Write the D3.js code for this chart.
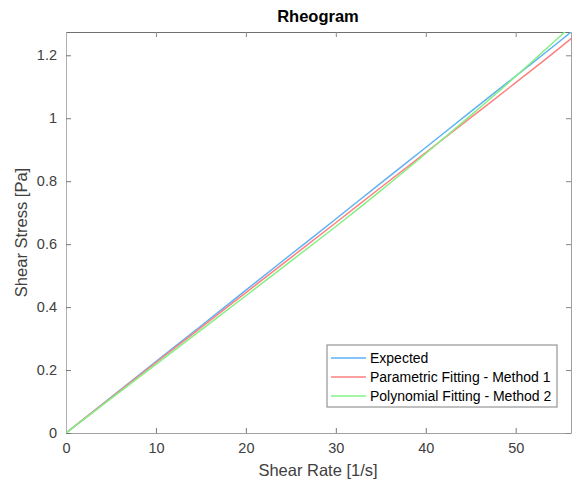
<!DOCTYPE html>
<html>
<head>
<meta charset="utf-8">
<title>Rheogram</title>
<script src="https://d3js.org/d3.v7.min.js"></script>
<style>
  body { margin: 0; background: #fff; font-family: "Liberation Sans", Arial, sans-serif; }
  .tick text { font-size: 14.5px; fill: #404040; }
</style>
</head>
<body>
<script>
// shear rate samples [1/s]
var shearRate = [0, 5, 10, 15, 20, 25, 30, 35, 40, 45, 50, 55, 56.2];
// shear stress [Pa]
var expected   = [0, 0.113, 0.227, 0.340, 0.454, 0.567, 0.680, 0.794, 0.907, 1.021, 1.134, 1.247, 1.275];
var parametric = [0, 0.112, 0.224, 0.335, 0.446, 0.557, 0.668, 0.780, 0.891, 1.002, 1.113, 1.226, 1.254];
var polynomial = [0, 0.109, 0.218, 0.327, 0.436, 0.546, 0.656, 0.770, 0.888, 1.009, 1.133, 1.262, 1.293];
var seriesNames = ["Expected", "Parametric Fitting - Method 1", "Polynomial Fitting - Method 2"];
var seriesColors = ["#5eb0f5", "#ff8080", "#84f084"];
var xTicks = [0, 10, 20, 30, 40, 50];
var yTicks = [0, 0.2, 0.4, 0.6, 0.8, 1, 1.2];

var W = 572, H = 482;
var margin = {top: 32, right: 1, bottom: 49, left: 66};
var width = W - margin.left - margin.right,
    height = H - margin.top - margin.bottom;

var svg = d3.select("body").append("svg")
    .attr("width", W).attr("height", H);

var g = svg.append("g")
    .attr("transform", "translate(" + margin.left + "," + margin.top + ")");

var x = d3.scaleLinear().domain([0, 56.15]).range([0, width]);
var y = d3.scaleLinear().domain([0, 1.274]).range([height, 0]);

// clip lines to the axes box
g.append("clipPath").attr("id", "clip")
  .append("rect").attr("width", width).attr("height", height);

// axes
var fmt = function(d) { return d3.format("~g")(d); };
g.append("g").attr("transform", "translate(0," + height + ")")
    .call(d3.axisBottom(x).tickValues(xTicks).tickSizeInner(-5).tickSizeOuter(0).tickPadding(10).tickFormat(fmt))
    .call(function(a) { a.select(".domain").attr("stroke", "#a0a0a0"); a.selectAll("line").attr("stroke", "#777"); });
g.append("g")
    .call(d3.axisTop(x).tickValues(xTicks).tickSizeInner(-5).tickSizeOuter(0).tickFormat(""))
    .call(function(a) { a.select(".domain").attr("stroke", "#707070"); a.selectAll("line").attr("stroke", "#888"); });
g.append("g")
    .call(d3.axisLeft(y).tickValues(yTicks).tickSizeInner(-5).tickSizeOuter(0).tickPadding(9).tickFormat(fmt))
    .call(function(a) { a.select(".domain").attr("stroke", "#b0b0b0"); a.selectAll("line").attr("stroke", "#777"); });
g.append("g").attr("transform", "translate(" + width + ",0)")
    .call(d3.axisRight(y).tickValues(yTicks).tickSizeInner(-5).tickSizeOuter(0).tickFormat(""))
    .call(function(a) { a.select(".domain").attr("stroke", "#a0a0a0"); a.selectAll("line").attr("stroke", "#888"); });

// lines
var allSeries = [expected, parametric, polynomial];
var line = d3.line()
    .x(function(d, i) { return x(shearRate[i]); })
    .y(function(d) { return y(d); })
    .curve(d3.curveMonotoneX);

g.append("g").attr("clip-path", "url(#clip)")
  .selectAll("path").data(allSeries).enter().append("path")
    .attr("d", line)
    .attr("fill", "none")
    .attr("stroke", function(d, i) { return seriesColors[i]; })
    .attr("stroke-width", 1.5);

// title and labels
svg.append("text").attr("x", 318).attr("y", 22)
    .attr("text-anchor", "middle").attr("font-size", 16.5).attr("font-weight", "bold")
    .attr("fill", "#000").text("Rheogram");
svg.append("text").attr("x", 318).attr("y", 476)
    .attr("text-anchor", "middle").attr("font-size", 16.5).attr("fill", "#404040")
    .text("Shear Rate [1/s]");
svg.append("text").attr("transform", "translate(27," + (margin.top + height / 2) + ") rotate(-90)")
    .attr("text-anchor", "middle").attr("font-size", 16.5).attr("fill", "#404040")
    .text("Shear Stress [Pa]");

// legend
var legend = svg.append("g").attr("transform", "translate(327,345)");
legend.append("rect").attr("width", 230).attr("height", 62)
    .attr("fill", "#fff").attr("stroke", "#808080").attr("stroke-width", 1);
var item = legend.selectAll(".item").data(seriesNames).enter().append("g")
    .attr("transform", function(d, i) { return "translate(0," + (13 + i * 19) + ")"; });
item.append("line").attr("x1", 4).attr("x2", 39)
    .attr("stroke", function(d, i) { return seriesColors[i]; }).attr("stroke-width", 1.5);
item.append("text").attr("x", 43).attr("dy", "0.35em")
    .attr("font-size", 14).attr("fill", "#000").text(function(d) { return d; });
</script>
</body>
</html>
